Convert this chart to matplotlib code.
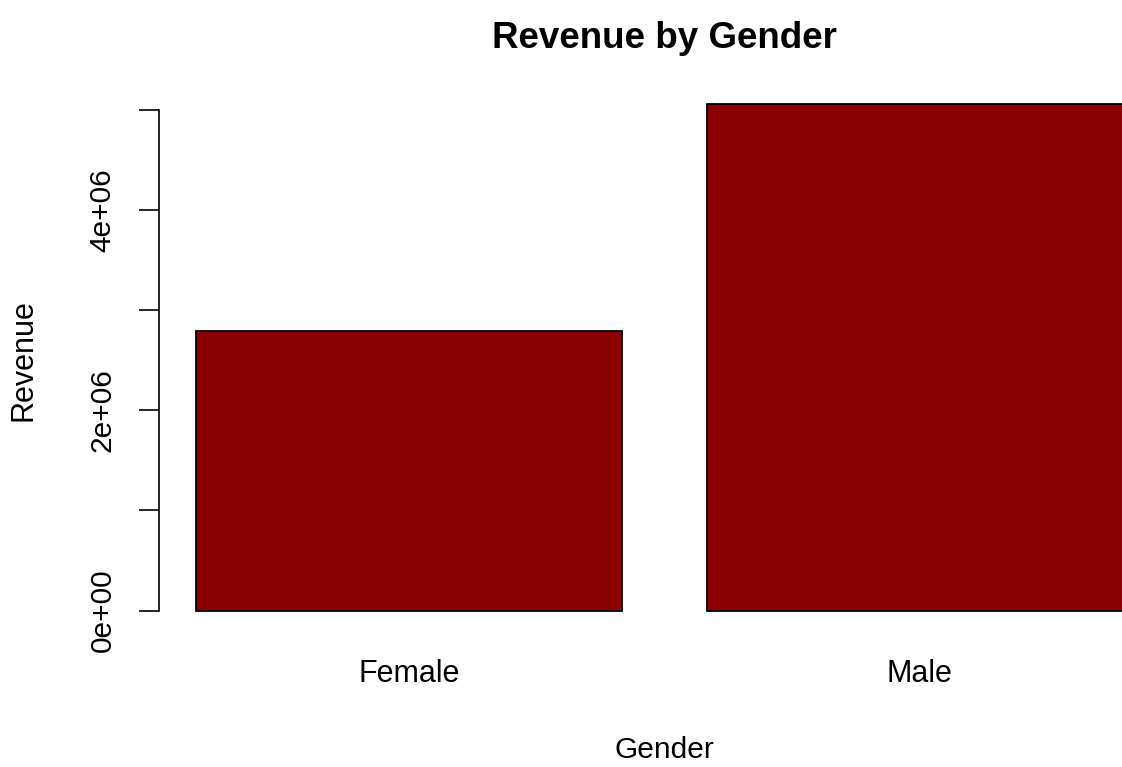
import matplotlib
matplotlib.use('Agg')
import matplotlib.pyplot as plt
import matplotlib.transforms as mtransforms

# data
genders = ["Female", "Male"]
revenue = [2.788e6, 5.06e6]
y_ticks = [0, 1e6, 2e6, 3e6, 4e6, 5e6]
y_tick_labels = ["0e+00", "", "2e+06", "", "4e+06", ""]

W, H = 1122, 767
plt.rcParams['font.family'] = ['Liberation Sans', 'DejaVu Sans']

fig = plt.figure(figsize=(W / 100, H / 100), dpi=100)

# plot region in pixels (R-style, right edge runs past the image)
left_px, right_px = 159, 1170
top_px, bottom_px = 83.5, 636.1
ax = fig.add_axes([left_px / W, 1 - bottom_px / H,
                   (right_px - left_px) / W, (bottom_px - top_px) / H])

# barplot geometry like R: width 1, space 0.2
centers = [0.7 + 1.2 * i for i in range(len(genders))]
ax.bar(centers, revenue, width=1.0, color='#8B0000', edgecolor='black',
       linewidth=1.3)

x_lo, x_hi = 0.2, 0.2 + 1.2 * len(genders) - 0.2
pad_x = 0.04 * (x_hi - x_lo)
ax.set_xlim(x_lo - pad_x, x_hi + pad_x)
y_lo, y_hi = -0.01 * max(revenue), max(revenue)
pad_y = 0.04 * (y_hi - y_lo)
ax.set_ylim(y_lo - pad_y, y_hi + pad_y)

for side in ['top', 'right', 'bottom']:
    ax.spines[side].set_visible(False)
ax.spines['left'].set_bounds(y_ticks[0], y_ticks[-1])
ax.spines['left'].set_linewidth(1.2)

ax.set_xticks([])
ax.set_yticks(y_ticks)
ax.set_yticklabels(y_tick_labels, rotation=90, va='center', fontsize=21.5)
ax.tick_params(axis='y', length=14.5, width=1.2, pad=16)

# category names under bars
trans = mtransforms.blended_transform_factory(ax.transData, fig.transFigure)
for c, name in zip(centers, genders):
    ax.text(c, 1 - 682 / H, name, transform=trans, ha='center',
            va='baseline', fontsize=22)

mid_x = (left_px + right_px) / 2 / W
fig.text(mid_x, 1 - 48 / H, "Revenue by Gender", ha='center', va='baseline',
         fontsize=26.5, fontweight='bold')
fig.text(mid_x, 1 - 758 / H, "Gender", ha='center', va='baseline',
         fontsize=21.5)
fig.text(24 / W, 1 - (top_px + bottom_px) / 2 / H, "Revenue", rotation=90,
         ha='center', va='center', fontsize=22)

fig.savefig('out.png', dpi=100)
plt.close(fig)
